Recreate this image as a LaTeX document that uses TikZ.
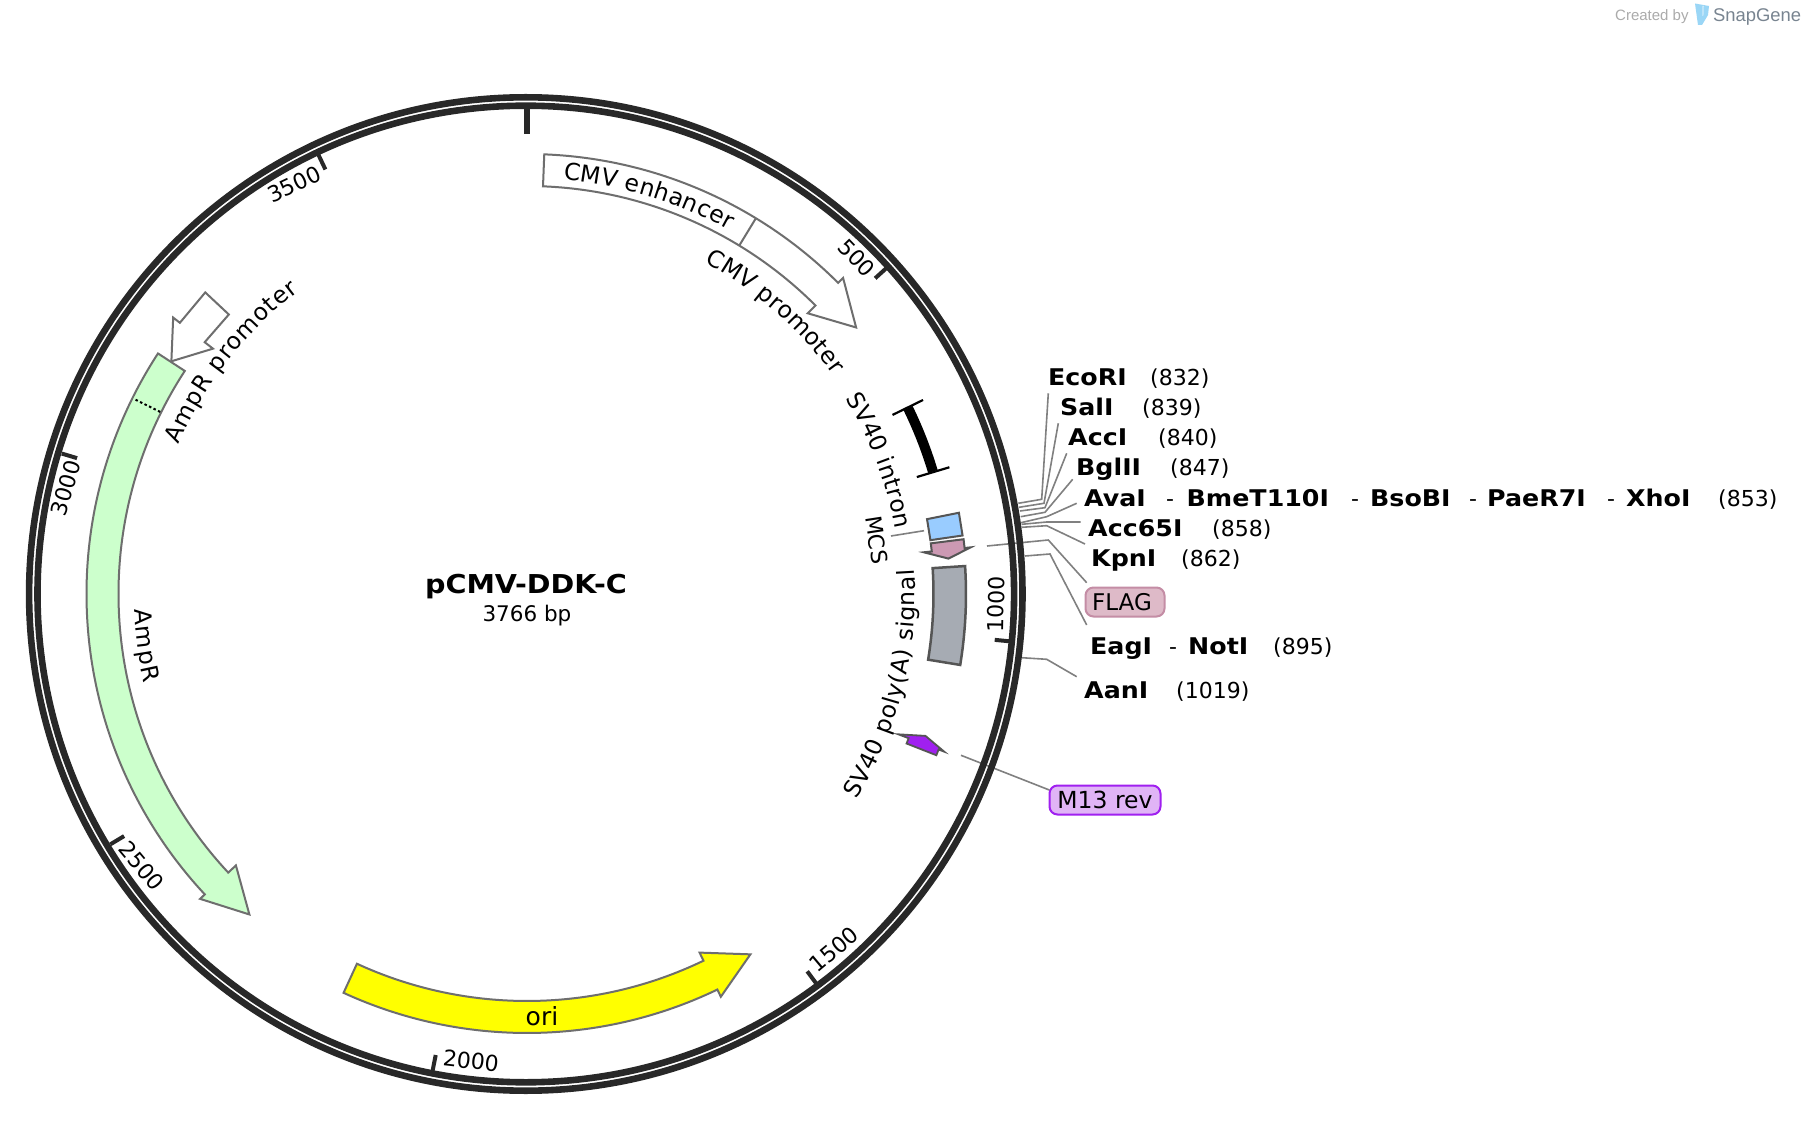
\documentclass[tikz,border=0pt]{standalone}
\usepackage{fontspec}
\setmainfont[BoldFeatures={FakeStretch=1.1}]{DejaVu Sans}
\newfontfamily\logofont{Liberation Sans}
\usetikzlibrary{decorations.text}
\newcommand{\lab}{\fontsize{22}{26}\selectfont}
\newcommand{\flab}{\fontsize{23.5}{26}\selectfont}
\newcommand{\seg}[2]{\makebox[#1pt][l]{#2}}
\newcommand{\nm}[1]{{\fontsize{23}{26}\selectfont\bfseries #1}}
\definecolor{ringc}{HTML}{282828}
\definecolor{edgec}{HTML}{6E6E6E}
\definecolor{darkedge}{HTML}{555555}
\definecolor{leadc}{HTML}{808080}
\definecolor{flagedge}{RGB}{196,141,165}
\definecolor{flagfill}{RGB}{222,186,200}
\definecolor{mrevedge}{RGB}{160,32,240}
\definecolor{mrevfill}{RGB}{224,180,246}
\definecolor{logoblue}{RGB}{154,214,246}
\definecolor{logogray}{RGB}{120,132,144}
\definecolor{ampgreen}{RGB}{204,255,204}
\definecolor{oriyellow}{RGB}{255,255,0}
\definecolor{mcsblue}{RGB}{153,204,255}
\definecolor{flagpink}{RGB}{204,153,179}
\definecolor{polyagray}{RGB}{166,171,179}
\tikzset{
  ring/.style={draw=ringc,line width=6.6pt},
  tickmark/.style={draw=ringc,line width=4pt},
  feat/.style={draw=edgec,line width=2pt,line join=miter},
  featdark/.style={draw=darkedge,line width=2pt,line join=miter},
  lead/.style={draw=leadc,line width=1.6pt},
  ticklab/.style={font=\lab,inner sep=0pt},
  site/.style={font=\lab,anchor=base west,inner sep=0pt},
  tag/.style={font=\lab,rounded corners=8pt,line width=2pt,inner sep=0pt},
  curvedfit/.style={decorate,decoration={text along path,text={|\flab|#1},text align={fit to path}}}
}
\begin{document}
\begin{tikzpicture}[x=1pt,y=1pt]
\useasboundingbox[fill=white] (-527,594) rectangle (1281,-528);
% leader lines and site labels, in reference pixels
\begin{scope}[shift={(-527pt,594pt)},y=-1pt]
 \node[site] (ecori) at (1048,386) {\seg{102}{\nm{EcoRI}}(832)};
 \node[site] (sali) at (1060,416) {\seg{82}{\nm{SalI}}(839)};
 \node[site] (acci) at (1068,446) {\seg{90}{\nm{AccI}}(840)};
 \node[site] (bglii) at (1076,476) {\seg{94}{\nm{BglII}}(847)};
 \node[site] (avai) at (1084,506) {\seg{82}{\nm{AvaI}}\seg{20.5}{-}\seg{164.5}{\nm{BmeT110I}}\seg{19}{-}\seg{99}{\nm{BsoBI}}\seg{18}{-}\seg{120}{\nm{PaeR7I}}\seg{19}{-}\seg{92}{\nm{XhoI}}(853)};
 \node[site] (accsf) at (1088,536) {\seg{124}{\nm{Acc65I}}(858)};
 \node[site] (kpni) at (1091,566) {\seg{90}{\nm{KpnI}}(862)};
 \node[site] (eagi) at (1090,654) {\seg{79}{\nm{EagI}}\seg{19}{-}\seg{85}{\nm{NotI}}(895)};
 \node[site] (aani) at (1084,698) {\seg{92}{\nm{AanI}}(1019)};
 \node[tag,draw=flagedge,fill=flagfill,minimum width=79pt,minimum height=29pt,font=\fontsize{23}{26}\selectfont] (flag) at (1125,602) {\hspace*{-6pt}FLAG};
 \node[tag,draw=mrevedge,fill=mrevfill,minimum width=111pt,minimum height=29pt,font=\fontsize{23.5}{26}\selectfont] (mrev) at (1105,800) {M13 rev};
 \coordinate (e1) at (1048.3,393.3); \coordinate (e2) at (1041.7,499.3); \coordinate (e3) at (1018.3,503.3);
 \coordinate (s1) at (1058.3,423.3); \coordinate (s2) at (1044,503.3); \coordinate (s3) at (1019,507.3);
 \coordinate (a1) at (1066.7,453.3); \coordinate (a2) at (1045,507.7); \coordinate (a3) at (1020,511);
 \coordinate (b1) at (1072.7,479.3); \coordinate (b2) at (1045,512.3); \coordinate (b3) at (1020.7,516.7);
 \coordinate (v1) at (1076.7,503.3); \coordinate (v2) at (1046.7,516.7); \coordinate (v3) at (1021,522.7);
 \coordinate (c1) at (1080.7,522); \coordinate (c2) at (1046.7,522); \coordinate (c3) at (1021.7,524.3);
 \coordinate (k1) at (1085,544); \coordinate (k2) at (1046.7,525.7); \coordinate (k3) at (1021.7,527.3);
 \coordinate (f1) at (1086.7,582.7); \coordinate (f2) at (1048.3,540); \coordinate (f3) at (987,546);
 \coordinate (g1) at (1086.7,625); \coordinate (g2) at (1050,554); \coordinate (g3) at (1025,556);
 \coordinate (n1) at (1076.7,676.7); \coordinate (n2) at (1046.7,659.3); \coordinate (n3) at (1021.7,657.7);
 \coordinate (m1) at (1049.3,790); \coordinate (m3) at (961,755.3);
 \coordinate (q1) at (891,536); \coordinate (q2) at (924,530.7);
 \draw[lead] (e1)--(e2)--(e3);
 \draw[lead] (s1)--(s2)--(s3);
 \draw[lead] (a1)--(a2)--(a3);
 \draw[lead] (b1)--(b2)--(b3);
 \draw[lead] (v1)--(v2)--(v3);
 \draw[lead] (c1)--(c2)--(c3);
 \draw[lead] (k1)--(k2)--(k3);
 \draw[lead] (f1)--(f2)--(f3);
 \draw[lead] (g1)--(g2)--(g3);
 \draw[lead] (n1)--(n2)--(n3);
 \draw[lead] (m1)--(m3);
 \draw[lead] (q1)--(q2);
 % logo
 \node[font=\logofont\fontsize{15}{16}\selectfont,text=black!33,anchor=base west,inner sep=0pt] (created) at (1615,20.5) {Created by};
 \node[font=\logofont\fontsize{18.4}{22}\selectfont,text=logogray,anchor=base west,inner sep=0pt] (snap) at (1713,21.5) {SnapGene};
 \fill[logoblue] (1695,3.5) -- (1709,6) -- (1708,15) -- (1702,25) -- (1698,25) -- cycle;
 \fill[white] (1702.5,6) -- (1703.5,6) -- (1703.2,16) -- (1702.7,16) -- cycle;
\end{scope}
% ring
\draw[ring] (-1.2,0) circle[radius=496.7];
\draw[ring] (-1.2,0) circle[radius=488.3];
% ticks
\draw[draw=ringc,line width=6pt] ({90-0}:485) -- ({90-0}:460);
\foreach \a in {47.8,95.6,143.4,191.2,239,286.8,334.6}{
  \draw[tickmark] ({90-\a}:486) -- ({90-\a}:470);
}
% tick labels
\node[ticklab,rotate=-46] (t500) at (329.7,335.7) {500};
\node[ticklab,rotate=89] (t1000) at (469,-10) {1000};
\node[ticklab,rotate=40] (t1500) at (307,-355) {1500};
\node[ticklab,rotate=-6.5] (t2000) at (-56,-467) {2000};
\node[ticklab,rotate=-50] (t2500) at (-385,-272) {2500};
\node[ticklab,rotate=74] (t3000) at (-461,106) {3000};
\node[ticklab,rotate=25] (t3500) at (-233,409.5) {3500};
% CMV enhancer + promoter
\draw[feat,fill=white] ({90-2.25}:440) arc[start angle={90-2.25},end angle={90-45},radius=440pt] -- ({90-45}:447) -- ({90-51}:423.5) -- ({90-45}:397) -- ({90-45}:408) arc[start angle={90-45},end angle={90-2.25},radius=408pt] -- cycle;
\draw[feat] ({90-31.35}:408) -- ({90-31.35}:440);
% AmpR promoter
\draw[feat,fill=white] ({90-313.15}:441) -- ({90-308}:440.5) -- ({90-308}:449) -- ({90-303.2}:425) -- ({90-308}:398.5) -- ({90-308}:409) -- ({90-313.15}:408.7) -- cycle;
% AmpR
\draw[feat,fill=ampgreen] ({90-303.1}:440.5) arc[start angle={90-303.1},end angle={90-227},radius=440.5pt] -- ({90-227}:447) -- ({90-220.9}:424) -- ({90-227}:398) -- ({90-227}:408.5) arc[start angle={90-227},end angle={90-303.1},radius=408.5pt] -- cycle;
\draw[draw=black,line width=2pt,dash pattern=on 2.5pt off 2.5pt] ({90-296.4}:409.5) -- ({90-296.4}:439.5);
% ori
\draw[feat,fill=oriyellow] ({90-204.7}:439) arc[start angle={90-204.7},end angle={90-154.3},radius=439pt] -- ({90-154.3}:447) -- ({90-148.2}:424) -- ({90-154.3}:398) -- ({90-154.3}:407) arc[start angle={90-154.3},end angle={90-204.7},radius=407pt] -- cycle;
% SV40 intron
\draw[draw=black,line width=10pt] ({90-64}:424) arc[start angle={90-64},end angle={90-73.2},radius=424pt];
\draw[draw=black,line width=2.2pt] ({90-63.9}:407) -- ({90-63.9}:441);
\draw[draw=black,line width=2.2pt] ({90-73.3}:407) -- ({90-73.3}:441);
% MCS + FLAG
\draw[featdark,fill=mcsblue] ({90-79.4}:407) -- ({90-79.35}:439.5) -- ({90-82.35}:439.5) -- ({90-82.4}:407) -- cycle;
\draw[featdark,fill=flagpink] ({90-82.85}:407) -- ({90-82.85}:440) -- ({90-84}:440) -- ({90-84}:446) -- ({90-85.2}:423) -- ({90-84}:399) -- ({90-84}:407) -- cycle;
% SV40 poly(A) signal
\draw[draw=darkedge,line width=2.5pt,fill=polyagray] ({90-86.35}:439) arc[start angle={90-86.35},end angle={90-99.3},radius=439pt] -- ({90-99.3}:406.5) arc[start angle={90-99.3},end angle={90-86.35},radius=406.5pt] -- cycle;
% M13 rev
\draw[draw=darkedge,line width=1.8pt,fill=mrevedge] ({90-111.5}:408) -- ({90-111.5}:440) -- ({90-110.7}:440) -- ({90-110.7}:446) -- ({90-109.6}:423) -- ({90-110.7}:397) -- ({90-110.7}:408) -- cycle;
% feature names
\path[curvedfit={CMV enhancer}] ({90-5}:416) arc[start angle={90-5},end angle={90-29},radius=416pt];
\path[curvedfit={CMV promoter}] ({90-28.2}:376) arc[start angle={90-28.2},end angle={90-54.4},radius=376pt];
\path[curvedfit={SV40 intron}] ({90-58.5}:374) arc[start angle={90-58.5},end angle={90-80},radius=374pt];
\path[curvedfit={AmpR promoter}] ({90-293.2}:379) arc[start angle={90-293.2},end angle={90-323},radius=379pt];
\path[curvedfit={SV40 poly(A) signal}] ({90-122}:388) arc[start angle={90-122},end angle={90-86.3},radius=388pt];
\path[curvedfit={AmpR}] ({90-267.8}:393) arc[start angle={90-267.8},end angle={90-256.8},radius=393pt];
\node[ticklab,rotate=-81.2] (mcs) at ({90-81.2}:353.8) {MCS};
\node[font=\fontsize{25}{26}\selectfont,anchor=base,inner sep=0pt] (ori) at (15,-431) {ori};
% title
\node[font=\fontsize{26}{32}\selectfont\bfseries,anchor=base,inner sep=0pt] (title) at (-1,0.5) {pCMV-DDK-C};
\node[font=\fontsize{21.5}{26}\selectfont,anchor=base,inner sep=0pt] (size) at (0,-27.7) {3766 bp};
\end{tikzpicture}
\end{document}
